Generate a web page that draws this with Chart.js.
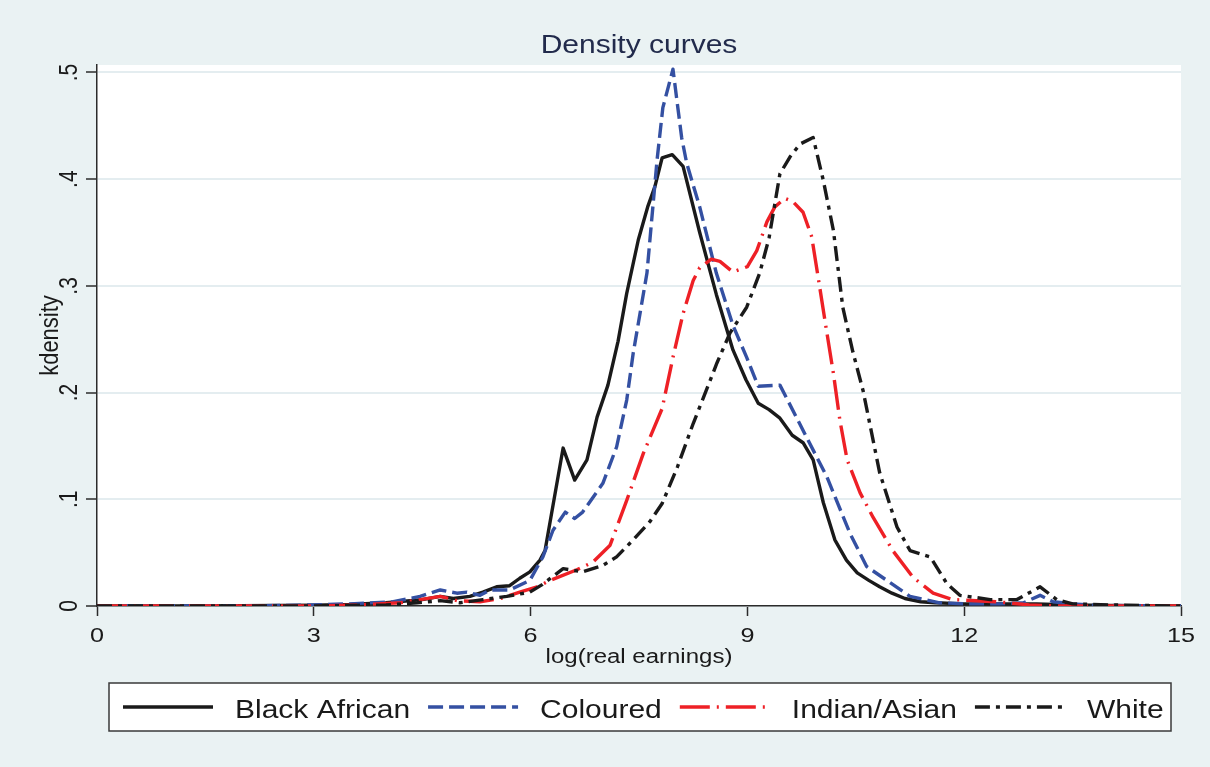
<!DOCTYPE html>
<html>
<head>
<meta charset="utf-8">
<title>Density curves</title>
<script src="https://cdn.jsdelivr.net/npm/chart.js@4.4.1/dist/chart.umd.min.js"></script>
<style>
  html, body { margin: 0; padding: 0; background: #EAF2F3; }
  #wrap { width: 1210px; height: 767px; position: relative; }
  canvas { display: block; }
</style>
</head>
<body>
<div id="wrap"><canvas id="chart" width="1210" height="767"></canvas></div>
<script>
// ---- series: kernel density of log(real earnings) by population group ----
const blackX = [0, 1, 2, 3, 3.5, 4.0, 4.5, 4.75, 4.93, 5.16, 5.34, 5.53, 5.71, 5.85, 5.99, 6.13, 6.2, 6.45, 6.61, 6.78, 6.92, 7.07, 7.21, 7.33, 7.49, 7.62, 7.72, 7.82, 7.96, 8.11, 8.34, 8.57, 8.80, 8.98, 9.15, 9.30, 9.45, 9.62, 9.77, 9.91, 10.05, 10.21, 10.37, 10.52, 10.68, 10.83, 11.0, 11.18, 11.4, 11.6, 12.0, 12.5, 13.0, 13.5, 14.0, 15.0];
const blackY = [0, 0, 0.0003, 0.0008, 0.0015, 0.003, 0.006, 0.009, 0.007, 0.009, 0.013, 0.018, 0.019, 0.026, 0.032, 0.043, 0.052, 0.148, 0.118, 0.137, 0.177, 0.207, 0.248, 0.293, 0.343, 0.374, 0.393, 0.420, 0.423, 0.412, 0.350, 0.292, 0.240, 0.212, 0.190, 0.184, 0.176, 0.160, 0.153, 0.137, 0.097, 0.062, 0.043, 0.031, 0.024, 0.018, 0.012, 0.007, 0.004, 0.003, 0.002, 0.002, 0.002, 0.001, 0.0005, 0];

const colouredX = [0, 2, 3, 3.5, 4.1, 4.47, 4.75, 4.98, 5.12, 5.30, 5.44, 5.71, 5.99, 6.17, 6.31, 6.48, 6.61, 6.72, 7.0, 7.19, 7.33, 7.42, 7.61, 7.75, 7.83, 7.97, 8.09, 8.16, 8.34, 8.57, 8.80, 8.99, 9.15, 9.45, 9.82, 10.1, 10.42, 10.65, 10.93, 11.25, 11.66, 12.0, 12.5, 12.82, 13.05, 13.23, 13.5, 13.84, 15];
const colouredY = [0, 0, 0.001, 0.002, 0.004, 0.009, 0.015, 0.012, 0.013, 0.010, 0.015, 0.015, 0.024, 0.046, 0.071, 0.088, 0.082, 0.088, 0.115, 0.149, 0.193, 0.237, 0.312, 0.418, 0.467, 0.503, 0.439, 0.415, 0.374, 0.312, 0.263, 0.233, 0.206, 0.207, 0.158, 0.121, 0.068, 0.037, 0.024, 0.009, 0.003, 0.002, 0.002, 0.003, 0.010, 0.004, 0.002, 0.0005, 0];

const indianX = [0, 3, 3.6, 4.2, 4.75, 4.98, 5.3, 5.58, 5.85, 6.09, 6.27, 6.64, 6.86, 7.10, 7.33, 7.56, 7.82, 7.97, 8.11, 8.25, 8.34, 8.50, 8.62, 8.80, 9.0, 9.13, 9.27, 9.38, 9.52, 9.63, 9.77, 9.89, 10.0, 10.1, 10.19, 10.28, 10.38, 10.56, 10.74, 11.01, 11.29, 11.57, 11.84, 12.45, 12.9, 13.3, 15];
const indianY = [0, 0, 0.001, 0.003, 0.009, 0.005, 0.004, 0.007, 0.013, 0.018, 0.024, 0.034, 0.041, 0.057, 0.099, 0.143, 0.185, 0.233, 0.274, 0.305, 0.317, 0.325, 0.323, 0.313, 0.318, 0.333, 0.360, 0.374, 0.382, 0.379, 0.369, 0.346, 0.299, 0.256, 0.218, 0.174, 0.137, 0.106, 0.083, 0.052, 0.027, 0.012, 0.006, 0.004, 0.001, 0, 0];

const whiteX = [0, 3, 4.0, 4.43, 4.75, 5.02, 5.34, 5.67, 5.99, 6.16, 6.45, 6.72, 7.0, 7.19, 7.42, 7.65, 7.82, 8.03, 8.25, 8.39, 8.58, 8.76, 8.99, 9.17, 9.30, 9.45, 9.59, 9.73, 9.91, 10.05, 10.19, 10.32, 10.46, 10.60, 10.83, 11.07, 11.25, 11.53, 11.76, 11.94, 12.36, 12.73, 13.05, 13.28, 13.5, 14.0, 15];
const whiteY = [0, 0, 0.001, 0.003, 0.005, 0.003, 0.006, 0.009, 0.013, 0.020, 0.035, 0.032, 0.038, 0.046, 0.062, 0.079, 0.096, 0.130, 0.171, 0.195, 0.228, 0.256, 0.280, 0.312, 0.345, 0.405, 0.421, 0.433, 0.439, 0.399, 0.352, 0.280, 0.238, 0.202, 0.125, 0.074, 0.052, 0.046, 0.021, 0.010, 0.006, 0.006, 0.018, 0.006, 0.002, 0.001, 0];

const seriesNames = ['Black African', 'Coloured', 'Indian/Asian', 'White'];

// ---- axes ----
const xTickValues = [0, 3, 6, 9, 12, 15];
const xTickLabels = ['0', '3', '6', '9', '12', '15'];
const yTickValues = [0, 0.1, 0.2, 0.3, 0.4, 0.5];
const yTickLabels = ['0', '.1', '.2', '.3', '.4', '.5'];

const chartTitle = 'Density curves';
const xAxisTitle = 'log(real earnings)';
const yAxisTitle = 'kdensity';

// ---- look ----
const BG = '#EAF2F3';
const GRID = '#E4EDF0';
const AXIS = '#2b2b2b';
const TEXT = '#1a1a1a';
const TITLE = '#222B4C';
const FONT = '"Liberation Sans", Arial, Helvetica, sans-serif';
const SX = 1.2;   // text is drawn slightly widened

const toPoints = (xs, ys) => xs.map((x, i) => ({ x: x, y: ys[i] }));

const styles = [
  { color: '#1a1a1a', dash: [] },
  { color: '#3450A2', dash: [15, 6] },
  { color: '#EE2026', dash: [30, 7, 2, 7] },
  { color: '#1a1a1a', dash: [15, 6, 4, 6] }
];
const seriesData = [
  toPoints(blackX, blackY),
  toPoints(colouredX, colouredY),
  toPoints(indianX, indianY),
  toPoints(whiteX, whiteY)
];

const datasets = seriesNames.map((name, i) => ({
  label: name,
  data: seriesData[i],
  borderColor: styles[i].color,
  borderDash: styles[i].dash,
  borderWidth: 3.4,
  borderJoinStyle: 'round',
  pointRadius: 0,
  pointHoverRadius: 0,
  tension: 0,
  fill: false,
  order: seriesNames.length - i
}));

function drawText(ctx, text, x, y, size, color, align, rotate) {
  ctx.save();
  ctx.translate(x, y);
  ctx.scale(SX, 1);
  if (rotate) ctx.rotate(-Math.PI / 2);
  ctx.font = size + 'px ' + FONT;
  ctx.fillStyle = color;
  ctx.textAlign = align || 'center';
  ctx.textBaseline = 'alphabetic';
  ctx.fillText(text, 0, 0);
  ctx.restore();
}

const framePlugin = {
  id: 'frame',
  beforeDraw(chart) {
    const { ctx, chartArea: a } = chart;
    ctx.save();
    ctx.fillStyle = BG;
    ctx.fillRect(0, 0, chart.width, chart.height);
    ctx.fillStyle = '#ffffff';
    ctx.fillRect(a.left, a.top, a.right - a.left, a.bottom - a.top);
    ctx.restore();
  },
  afterDraw(chart) {
    const { ctx, chartArea: a } = chart;
    const xs = chart.scales.x, ys = chart.scales.y;
    const midX = (a.left + a.right) / 2;

    // title
    drawText(ctx, chartTitle, midX, 53, 25, TITLE, 'center');

    // x tick labels and title
    xTickValues.forEach((v, i) => {
      drawText(ctx, xTickLabels[i], xs.getPixelForValue(v), a.bottom + 36, 21, TEXT, 'center');
    });
    drawText(ctx, xAxisTitle, midX, a.bottom + 57, 20, TEXT, 'center');

    // y tick labels (rotated) and title
    yTickValues.forEach((v, i) => {
      drawText(ctx, yTickLabels[i], a.left - 20, ys.getPixelForValue(v), 21, TEXT, 'center', true);
    });
    drawText(ctx, yAxisTitle, 58, (a.top + a.bottom) / 2, 22, TEXT, 'center', true);

    // legend box
    const box = { left: 109, top: 683, right: 1171, bottom: 731 };
    ctx.save();
    ctx.fillStyle = '#ffffff';
    ctx.fillRect(box.left, box.top, box.right - box.left, box.bottom - box.top);
    ctx.strokeStyle = '#3a3a3a';
    ctx.lineWidth = 1.5;
    ctx.strokeRect(box.left, box.top, box.right - box.left, box.bottom - box.top);
    ctx.restore();

    const sampleW = 90, gapText = 22, gapItem = 18, lineY = 707, textY = 718, fs = 25;
    let x = 123;
    chart.data.datasets.forEach(ds => {
      ctx.save();
      ctx.strokeStyle = ds.borderColor;
      ctx.lineWidth = 3.6;
      ctx.setLineDash(ds.borderDash || []);
      ctx.beginPath();
      ctx.moveTo(x, lineY);
      ctx.lineTo(x + sampleW, lineY);
      ctx.stroke();
      ctx.restore();
      x += sampleW + gapText;
      drawText(ctx, ds.label, x, textY, fs, TEXT, 'left');
      ctx.save();
      ctx.font = fs + 'px ' + FONT;
      const w = ctx.measureText(ds.label).width * SX;
      ctx.restore();
      x += w + gapItem;
    });
  }
};

new Chart(document.getElementById('chart'), {
  type: 'line',
  data: { datasets: datasets },
  plugins: [framePlugin],
  options: {
    responsive: false,
    devicePixelRatio: 1,
    animation: false,
    events: [],
    layout: { padding: { left: 0, right: 29, top: 65, bottom: 0 } },
    plugins: {
      legend: { display: false },
      title: { display: false },
      tooltip: { enabled: false }
    },
    scales: {
      x: {
        type: 'linear',
        min: 0,
        max: 15,
        afterBuildTicks: s => { s.ticks = xTickValues.map(v => ({ value: v })); },
        afterFit: s => { s.height = 161; },
        ticks: { display: false },
        grid: { drawOnChartArea: false, drawTicks: true, tickLength: 10, tickColor: AXIS, tickWidth: 1.5 },
        border: { display: true, color: AXIS, width: 1.5 }
      },
      y: {
        type: 'linear',
        min: 0,
        max: 0.507,
        afterBuildTicks: s => { s.ticks = yTickValues.map(v => ({ value: v })); },
        afterFit: s => { s.width = 97; },
        ticks: { display: false },
        grid: { color: GRID, lineWidth: 2, drawTicks: true, tickLength: 11, tickColor: AXIS, tickWidth: 1.5 },
        border: { display: true, color: AXIS, width: 1.5 }
      }
    }
  }
});
</script>
</body>
</html>
